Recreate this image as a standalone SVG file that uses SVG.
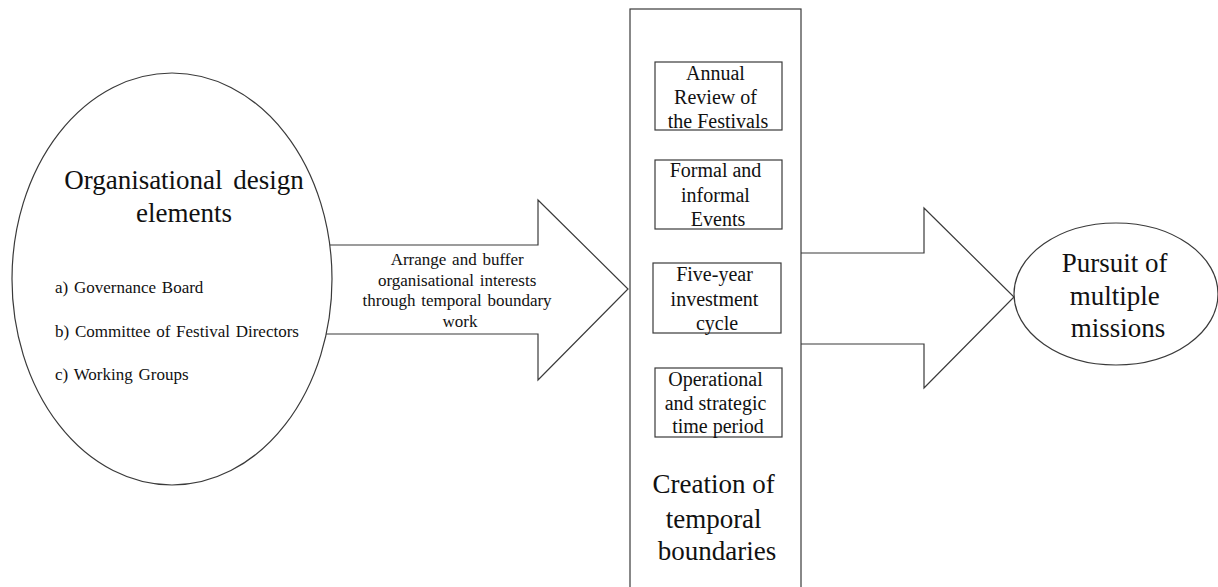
<svg xmlns="http://www.w3.org/2000/svg" width="1218" height="587" viewBox="0 0 1218 587" font-family="'Liberation Serif', 'Times New Roman', Times, serif">
  <style>
    .shape { fill: #ffffff; stroke: #3a3a3a; stroke-width: 1.2; }
    .t { fill: #111111; }
    .big { font-size: 27px; text-anchor: middle; }
    .box { font-size: 20px; text-anchor: middle; }
    .item { font-size: 17px; word-spacing: 1.5px; }
    .lbl { font-size: 17px; text-anchor: middle; word-spacing: 1.5px; }
  </style>
  <rect width="1218" height="587" fill="#ffffff"/>

  <g id="connectors">
    <!-- broad arrow from the design elements into the boundary column -->
    <path class="shape" d="M330,245 H538 V200 L628,289 L538,380 V334 H326"/>
    <!-- broad arrow from the boundary column to the missions -->
    <path class="shape" d="M801,253 H924 V208 L1014,297 L924,388 V344 H801"/>
    <text class="t lbl">
      <tspan x="460" y="265">Arrange and buffer</tspan>
      <tspan x="460" y="286">organisational interests</tspan>
      <tspan x="460" y="306">through temporal boundary</tspan>
      <tspan x="460" y="327">work</tspan>
    </text>
  </g>

  <g id="design-elements">
    <ellipse class="shape" cx="172" cy="279" rx="160" ry="206"/>
    <text class="t big" x="184" y="189" word-spacing="4">Organisational design</text>
    <text class="t big" x="184" y="222">elements</text>
    <text class="t item" x="55" y="293">a) Governance Board</text>
    <text class="t item" x="55" y="337">b) Committee of Festival Directors</text>
    <text class="t item" x="55" y="380">c) Working Groups</text>
  </g>

  <g id="temporal-boundaries">
    <rect class="shape" x="630" y="9" width="171" height="590"/>
    <text class="t big">
      <tspan x="717" y="493">Creation of</tspan>
      <tspan x="717" y="528">temporal</tspan>
      <tspan x="717" y="560">boundaries</tspan>
    </text>
  </g>

  <g id="annual-review">
    <rect class="shape" x="655" y="62" width="127" height="68"/>
    <text class="t box">
      <tspan x="718" y="80">Annual</tspan>
      <tspan x="718" y="104">Review of</tspan>
      <tspan x="718" y="128">the Festivals</tspan>
    </text>
  </g>

  <g id="events">
    <rect class="shape" x="655" y="160" width="127" height="69"/>
    <text class="t box">
      <tspan x="718" y="177">Formal and</tspan>
      <tspan x="718" y="202">informal</tspan>
      <tspan x="718" y="226">Events</tspan>
    </text>
  </g>

  <g id="investment-cycle">
    <rect class="shape" x="653" y="263" width="128" height="70"/>
    <text class="t box">
      <tspan x="717" y="281">Five-year</tspan>
      <tspan x="717" y="306">investment</tspan>
      <tspan x="717" y="330">cycle</tspan>
    </text>
  </g>

  <g id="time-period">
    <rect class="shape" x="655" y="368" width="127" height="69"/>
    <text class="t box">
      <tspan x="718" y="386">Operational</tspan>
      <tspan x="718" y="410">and strategic</tspan>
      <tspan x="718" y="433">time period</tspan>
    </text>
  </g>

  <g id="missions">
    <ellipse class="shape" cx="1116" cy="294" rx="102" ry="71"/>
    <text class="t big">
      <tspan x="1118" y="272">Pursuit of</tspan>
      <tspan x="1118" y="305">multiple</tspan>
      <tspan x="1118" y="337">missions</tspan>
    </text>
  </g>
</svg>
